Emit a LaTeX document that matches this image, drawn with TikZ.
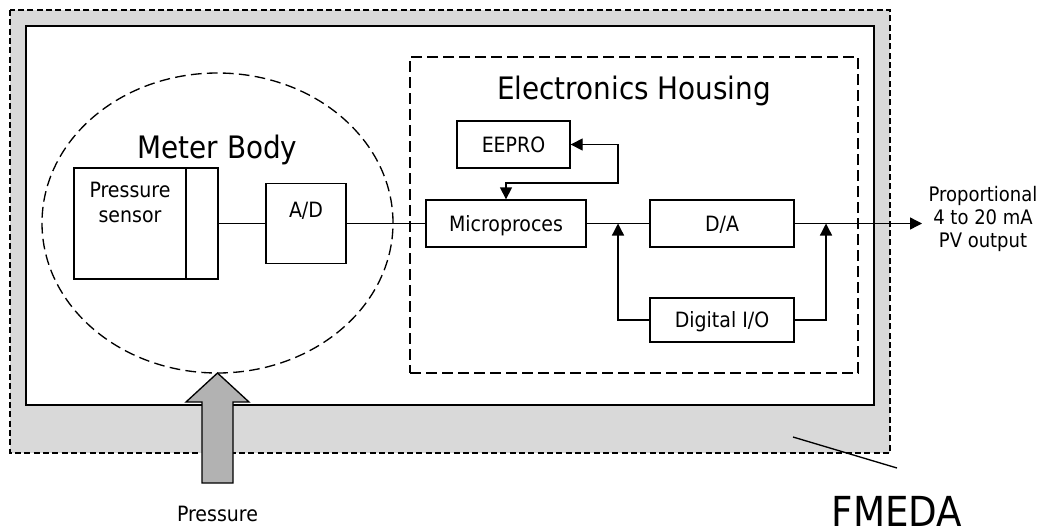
\documentclass[tikz,border=0pt]{standalone}
\usepackage{fontspec}
\setmainfont{DejaVu Sans Condensed}
\usepackage{tikz}
\usetikzlibrary{shapes,arrows.meta}
\definecolor{bandgray}{HTML}{D9D9D9}
\definecolor{arrowgray}{HTML}{B2B2B2}
\tikzset{
	block/.style    = {draw, rectangle, line width=1pt, inner sep=0pt,
		text height=11.3pt, text depth=0pt,
		font=\fontsize{15.8}{18.75}\selectfont},
	housing/.style  = {draw, dash pattern=on 8pt off 4pt, line width=1pt, inner sep=0pt},
	title/.style    = {font=\fontsize{23.2}{27}\selectfont, inner sep=0pt, anchor=base},
	note/.style     = {font=\fontsize{15}{17.25}\selectfont, inner sep=0pt, align=center},
}

\begin{document}
\begin{tikzpicture}[ x=0.75pt, y=-0.75pt,                 %<--one unit is one pixel, y runs down
                     line width=1pt,                      %<--setting line style
                     >={Triangle[length=9pt,width=9pt]} ] %<--sets the arrowtype
    \useasboundingbox (0,0) rectangle (1044,529);

    %Drawing the Enclosures:
    \draw[fill=bandgray, dash pattern=on 4.5pt off 2.5pt, line width=0.8pt] (10,10) rectangle (890,453);
    \draw[fill=white, line width=1.2pt] (26,26) rectangle (874,405);
    %Drawing the Pressure Input:
    \draw[fill=arrowgray] (202,483) -- (202,402) -- (186,402) -- (217.5,373)
        -- (249,402) -- (233,402) -- (233,483) -- cycle;

    \draw%-----------------------------------------------------------------------------------------
    	%Drawing the Housings:
    	node(meterbody) at (217.5,223) [housing, ellipse, minimum width=263.25pt, minimum height=225pt]{}
    	node(electronics) at (634,215) [housing, rectangle, minimum width=336pt, minimum height=237pt]{}
    	node(meterbodytitle) at (217.5,158) [title]{Meter Body}
    	node(electronicstitle) at (634,99) [title]{Electronics Housing}
     	%Drawing the Blocks:
    	node(sensor) at (130,223.5) [block, align=center, minimum width=84pt, minimum height=83.25pt,
    	    text depth=13.55pt]{Pressure\\sensor}
    	node(port) at (202,223.5) [block, minimum width=24pt, minimum height=83.25pt]{}
    	node(AD) at (306,223.5) [block, minimum width=60pt, minimum height=60pt, text depth=20.3pt]{A/D}
    	node(EEPRO) at (513.5,144.5) [block, minimum width=84.75pt, minimum height=35.25pt]{EEPRO}
    	node(micro) at (506,223.5) [block, minimum width=120pt, minimum height=35.25pt]{Microproces}
    	node(DA) at (722,223.5) [block, minimum width=108pt, minimum height=35.25pt]{D/A}
    	node(DIO) at (722,320) [block, minimum width=108pt, minimum height=33pt]{Digital I/O}
    	%Drawing the Turn/Tap Nodes:
    	node[shape=coordinate](EEPROturn) at (618,183){}
    	node[shape=coordinate](tapleft) at (618,223.5){}
    	node[shape=coordinate](tapright) at (826,223.5){}
    	node[shape=coordinate](output1) at (922,223.5){}
    	node[shape=coordinate](FMEDApointer) at (793,437){}
    	node[shape=coordinate](FMEDAfoot) at (897,468){}
    	%Drawing the Labels:
    	node(outputtext) at (983,247) [note, anchor=base]{Proportional\\4 to 20 mA\\PV output}
    	node(pressuretext) at (217.5,521) [note, font=\fontsize{15.8}{18.75}\selectfont, anchor=base]{Pressure}
    	node(FMEDA) at (897,526) [inner sep=0pt, anchor=base, font=\fontsize{31}{36}\selectfont]{FMEDA}
    ;%---------------------------------------------------------------------------------------------

    %Joining the Blocks
  	\draw(port) -- (AD);
  	\draw(AD) -- (micro);
  	\draw[<->](EEPRO.east) -| (EEPROturn) -| (micro.north);
  	\draw(micro) -- (DA);
  	\draw[->](DA) -- (output1);
  	\draw[->](DIO.west) -| (tapleft);
  	\draw[->](DIO.east) -| (tapright);
  	\draw(FMEDApointer) -- (FMEDAfoot);
\end{tikzpicture}
\end{document}
